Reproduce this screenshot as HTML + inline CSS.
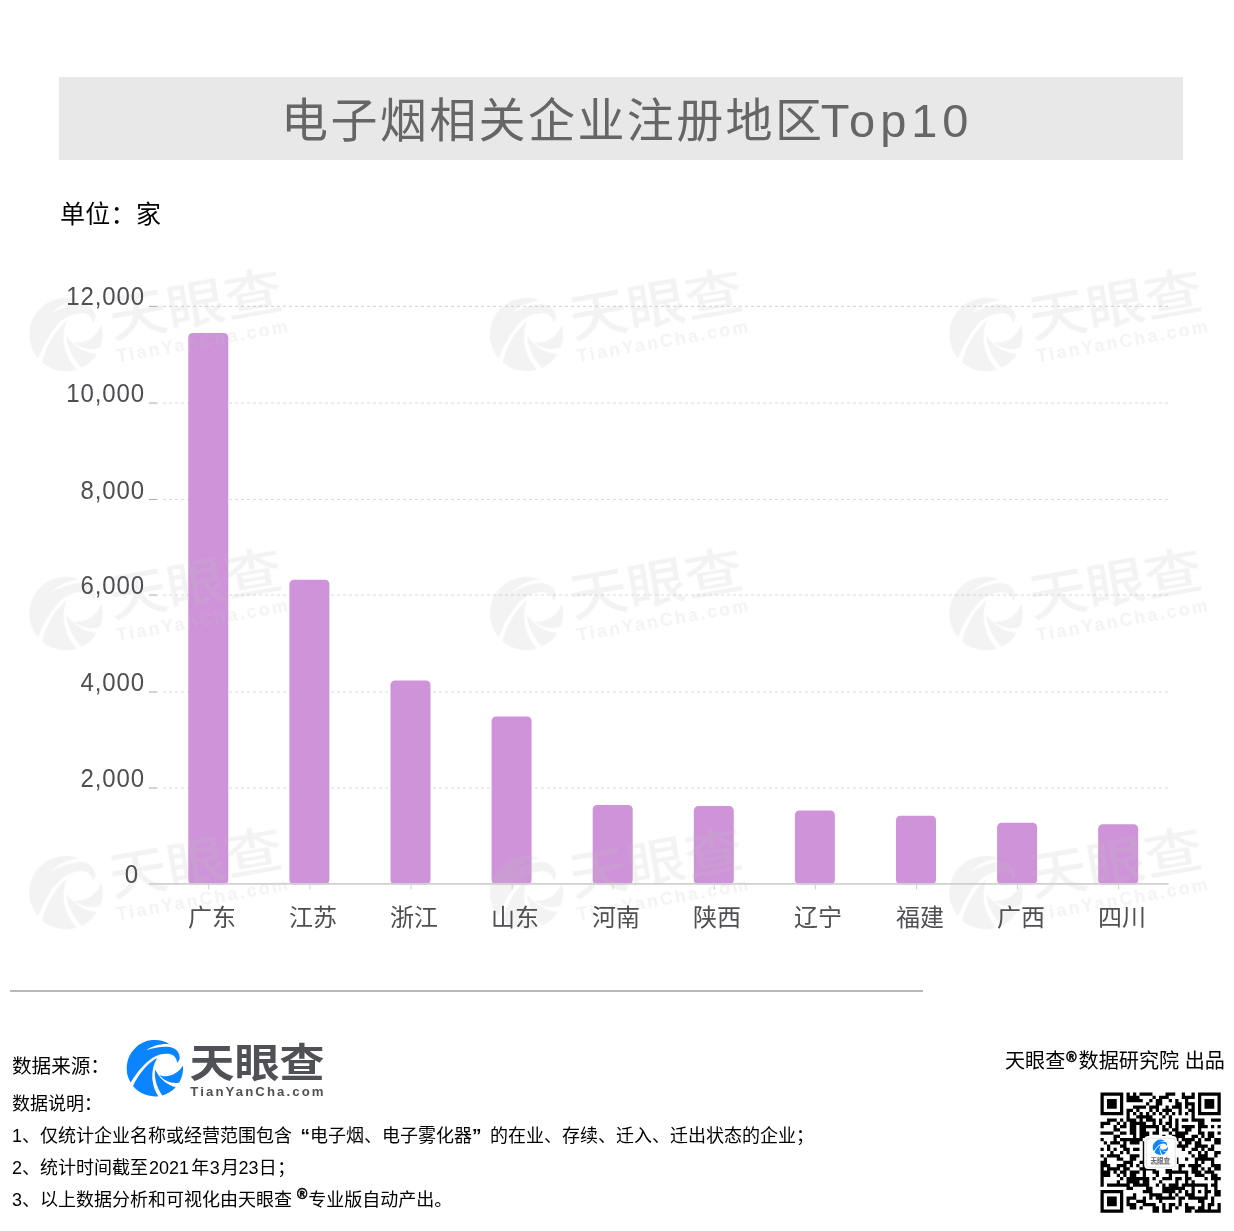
<!DOCTYPE html>
<html lang="zh-CN">
<head>
<meta charset="utf-8">
<title>电子烟相关企业注册地区Top10</title>
<style>
html,body{margin:0;padding:0;background:#fff;}
body{width:1234px;height:1231px;position:relative;overflow:hidden;font-family:"Liberation Sans","Noto Sans CJK SC",sans-serif;}
.abs{position:absolute;white-space:nowrap;will-change:transform;}
.ql,.qr{display:inline-block;width:18px;font-weight:700;font-size:19px;}.ql{text-align:right;}.qr{text-align:left;}
#titlebox{left:59px;top:77px;width:1124px;height:83px;background:#e8e8e8;}
#title{left:222px;top:2px;height:83px;line-height:83px;font-size:47px;color:#666;}
#title .c{letter-spacing:2.4px;}
#title .l{letter-spacing:4.9px;margin-left:-3.7px;}
#unit{left:60px;top:196.5px;font-size:25px;color:#000;line-height:34px;letter-spacing:0.3px;}
.yl{font-size:24px;color:#4f4f53;line-height:28px;text-align:right;width:100px;letter-spacing:0.9px;transform:scaleY(1.05);transform-origin:50% 80%;}
.xl{font-size:24px;color:#4f4f53;line-height:30px;}
#sep{left:10px;top:990px;width:913px;height:2px;background:#b8b8b8;}
.ft{font-size:18px;color:#000;line-height:24px;}
.reg{position:relative;font-size:14px;line-height:0;font-weight:700;-webkit-text-stroke:0.5px #000;}
</style>
</head>
<body>
<div class="abs" id="titlebox"><div class="abs" id="title"><span class="c">电子烟相关企业注册地区</span><span class="l">Top10</span></div></div>
<div class="abs" id="unit">单位：家</div>
<svg class="abs" style="left:0;top:0" width="1234" height="1231" viewBox="0 0 1234 1231">
<g stroke="#dadada" stroke-width="1.1" stroke-dasharray="3 3" fill="none">
<line x1="163" y1="788.00" x2="1168" y2="788.00"/>
<line x1="163" y1="692.00" x2="1168" y2="692.00"/>
<line x1="163" y1="595.05" x2="1168" y2="595.05"/>
<line x1="163" y1="499.50" x2="1168" y2="499.50"/>
<line x1="163" y1="403.05" x2="1168" y2="403.05"/>
<line x1="163" y1="306.40" x2="1168" y2="306.40"/>
</g>
<g stroke="#b2b2b2" stroke-width="1.1">
<line x1="148.9" y1="788.00" x2="157.5" y2="788.00"/>
<line x1="148.9" y1="692.00" x2="157.5" y2="692.00"/>
<line x1="148.9" y1="595.05" x2="157.5" y2="595.05"/>
<line x1="148.9" y1="499.50" x2="157.5" y2="499.50"/>
<line x1="148.9" y1="403.05" x2="157.5" y2="403.05"/>
<line x1="148.9" y1="306.40" x2="157.5" y2="306.40"/>
</g>
<g fill="#ce93d8">
<rect x="188.3" y="333.0" width="40" height="551.5" rx="4.5"/>
<rect x="289.4" y="579.7" width="40" height="304.8" rx="4.5"/>
<rect x="390.5" y="680.4" width="40" height="204.1" rx="4.5"/>
<rect x="491.6" y="716.5" width="40" height="168.0" rx="4.5"/>
<rect x="592.7" y="805.0" width="40" height="79.5" rx="4.5"/>
<rect x="693.8" y="806.1" width="40" height="78.4" rx="4.5"/>
<rect x="794.9" y="810.5" width="40" height="74.0" rx="4.5"/>
<rect x="896.0" y="815.7" width="40" height="68.8" rx="4.5"/>
<rect x="997.1" y="822.7" width="40" height="61.8" rx="4.5"/>
<rect x="1098.2" y="824.2" width="40" height="60.3" rx="4.5"/>
</g>
<g opacity="0.2">
<g transform="translate(66.0,334.5) rotate(-10) scale(1.3)"><g fill="#c4c4c4" transform="scale(0.05511) translate(-597,-588)"><path d="M155.8,847.9 A512,512 0 0 1 872.1,156.2 C760,135 560,170 440,262 C580,215 760,185 870,205 C960,225 1030,280 1045,370 C1055,420 1030,460 1000,490 C995,420 960,360 880,335 C800,315 700,330 620,365 C450,440 300,620 155.8,847.9 Z"/><path d="M199.7,910.9 C300,700 450,510 640,400 C570,520 540,650 550,780 C560,900 600,1010 659.4,1096.2 A512,512 0 0 1 199.7,910.9 Z"/><path d="M600,610 C580,760 630,940 732.1,1081.9 A512,512 0 0 0 978.1,929.9 C850,905 700,810 600,610 Z"/><path d="M680,710 C800,770 1000,720 1106.8,540.7 A512,512 0 0 1 1039.5,845.5 C920,880 760,820 680,710 Z"/></g><text x="34.6" y="8.6" font-family='"Liberation Sans","Noto Sans CJK SC",sans-serif' font-weight="500" font-size="39.5" fill="#c4c4c4" textLength="135" lengthAdjust="spacingAndGlyphs">天眼查</text><text x="35.4" y="28.3" font-family='"Liberation Sans",sans-serif' font-weight="700" font-size="13.6" fill="#c4c4c4" textLength="133.3" lengthAdjust="spacing">TianYanCha.com</text></g>
<g transform="translate(526.5,334.5) rotate(-10) scale(1.3)"><g fill="#c4c4c4" transform="scale(0.05511) translate(-597,-588)"><path d="M155.8,847.9 A512,512 0 0 1 872.1,156.2 C760,135 560,170 440,262 C580,215 760,185 870,205 C960,225 1030,280 1045,370 C1055,420 1030,460 1000,490 C995,420 960,360 880,335 C800,315 700,330 620,365 C450,440 300,620 155.8,847.9 Z"/><path d="M199.7,910.9 C300,700 450,510 640,400 C570,520 540,650 550,780 C560,900 600,1010 659.4,1096.2 A512,512 0 0 1 199.7,910.9 Z"/><path d="M600,610 C580,760 630,940 732.1,1081.9 A512,512 0 0 0 978.1,929.9 C850,905 700,810 600,610 Z"/><path d="M680,710 C800,770 1000,720 1106.8,540.7 A512,512 0 0 1 1039.5,845.5 C920,880 760,820 680,710 Z"/></g><text x="34.6" y="8.6" font-family='"Liberation Sans","Noto Sans CJK SC",sans-serif' font-weight="500" font-size="39.5" fill="#c4c4c4" textLength="135" lengthAdjust="spacingAndGlyphs">天眼查</text><text x="35.4" y="28.3" font-family='"Liberation Sans",sans-serif' font-weight="700" font-size="13.6" fill="#c4c4c4" textLength="133.3" lengthAdjust="spacing">TianYanCha.com</text></g>
<g transform="translate(986.0,334.5) rotate(-10) scale(1.3)"><g fill="#c4c4c4" transform="scale(0.05511) translate(-597,-588)"><path d="M155.8,847.9 A512,512 0 0 1 872.1,156.2 C760,135 560,170 440,262 C580,215 760,185 870,205 C960,225 1030,280 1045,370 C1055,420 1030,460 1000,490 C995,420 960,360 880,335 C800,315 700,330 620,365 C450,440 300,620 155.8,847.9 Z"/><path d="M199.7,910.9 C300,700 450,510 640,400 C570,520 540,650 550,780 C560,900 600,1010 659.4,1096.2 A512,512 0 0 1 199.7,910.9 Z"/><path d="M600,610 C580,760 630,940 732.1,1081.9 A512,512 0 0 0 978.1,929.9 C850,905 700,810 600,610 Z"/><path d="M680,710 C800,770 1000,720 1106.8,540.7 A512,512 0 0 1 1039.5,845.5 C920,880 760,820 680,710 Z"/></g><text x="34.6" y="8.6" font-family='"Liberation Sans","Noto Sans CJK SC",sans-serif' font-weight="500" font-size="39.5" fill="#c4c4c4" textLength="135" lengthAdjust="spacingAndGlyphs">天眼查</text><text x="35.4" y="28.3" font-family='"Liberation Sans",sans-serif' font-weight="700" font-size="13.6" fill="#c4c4c4" textLength="133.3" lengthAdjust="spacing">TianYanCha.com</text></g>
<g transform="translate(66.0,613.5) rotate(-10) scale(1.3)"><g fill="#c4c4c4" transform="scale(0.05511) translate(-597,-588)"><path d="M155.8,847.9 A512,512 0 0 1 872.1,156.2 C760,135 560,170 440,262 C580,215 760,185 870,205 C960,225 1030,280 1045,370 C1055,420 1030,460 1000,490 C995,420 960,360 880,335 C800,315 700,330 620,365 C450,440 300,620 155.8,847.9 Z"/><path d="M199.7,910.9 C300,700 450,510 640,400 C570,520 540,650 550,780 C560,900 600,1010 659.4,1096.2 A512,512 0 0 1 199.7,910.9 Z"/><path d="M600,610 C580,760 630,940 732.1,1081.9 A512,512 0 0 0 978.1,929.9 C850,905 700,810 600,610 Z"/><path d="M680,710 C800,770 1000,720 1106.8,540.7 A512,512 0 0 1 1039.5,845.5 C920,880 760,820 680,710 Z"/></g><text x="34.6" y="8.6" font-family='"Liberation Sans","Noto Sans CJK SC",sans-serif' font-weight="500" font-size="39.5" fill="#c4c4c4" textLength="135" lengthAdjust="spacingAndGlyphs">天眼查</text><text x="35.4" y="28.3" font-family='"Liberation Sans",sans-serif' font-weight="700" font-size="13.6" fill="#c4c4c4" textLength="133.3" lengthAdjust="spacing">TianYanCha.com</text></g>
<g transform="translate(526.5,613.5) rotate(-10) scale(1.3)"><g fill="#c4c4c4" transform="scale(0.05511) translate(-597,-588)"><path d="M155.8,847.9 A512,512 0 0 1 872.1,156.2 C760,135 560,170 440,262 C580,215 760,185 870,205 C960,225 1030,280 1045,370 C1055,420 1030,460 1000,490 C995,420 960,360 880,335 C800,315 700,330 620,365 C450,440 300,620 155.8,847.9 Z"/><path d="M199.7,910.9 C300,700 450,510 640,400 C570,520 540,650 550,780 C560,900 600,1010 659.4,1096.2 A512,512 0 0 1 199.7,910.9 Z"/><path d="M600,610 C580,760 630,940 732.1,1081.9 A512,512 0 0 0 978.1,929.9 C850,905 700,810 600,610 Z"/><path d="M680,710 C800,770 1000,720 1106.8,540.7 A512,512 0 0 1 1039.5,845.5 C920,880 760,820 680,710 Z"/></g><text x="34.6" y="8.6" font-family='"Liberation Sans","Noto Sans CJK SC",sans-serif' font-weight="500" font-size="39.5" fill="#c4c4c4" textLength="135" lengthAdjust="spacingAndGlyphs">天眼查</text><text x="35.4" y="28.3" font-family='"Liberation Sans",sans-serif' font-weight="700" font-size="13.6" fill="#c4c4c4" textLength="133.3" lengthAdjust="spacing">TianYanCha.com</text></g>
<g transform="translate(986.0,613.5) rotate(-10) scale(1.3)"><g fill="#c4c4c4" transform="scale(0.05511) translate(-597,-588)"><path d="M155.8,847.9 A512,512 0 0 1 872.1,156.2 C760,135 560,170 440,262 C580,215 760,185 870,205 C960,225 1030,280 1045,370 C1055,420 1030,460 1000,490 C995,420 960,360 880,335 C800,315 700,330 620,365 C450,440 300,620 155.8,847.9 Z"/><path d="M199.7,910.9 C300,700 450,510 640,400 C570,520 540,650 550,780 C560,900 600,1010 659.4,1096.2 A512,512 0 0 1 199.7,910.9 Z"/><path d="M600,610 C580,760 630,940 732.1,1081.9 A512,512 0 0 0 978.1,929.9 C850,905 700,810 600,610 Z"/><path d="M680,710 C800,770 1000,720 1106.8,540.7 A512,512 0 0 1 1039.5,845.5 C920,880 760,820 680,710 Z"/></g><text x="34.6" y="8.6" font-family='"Liberation Sans","Noto Sans CJK SC",sans-serif' font-weight="500" font-size="39.5" fill="#c4c4c4" textLength="135" lengthAdjust="spacingAndGlyphs">天眼查</text><text x="35.4" y="28.3" font-family='"Liberation Sans",sans-serif' font-weight="700" font-size="13.6" fill="#c4c4c4" textLength="133.3" lengthAdjust="spacing">TianYanCha.com</text></g>
<g transform="translate(66.0,892.5) rotate(-10) scale(1.3)"><g fill="#c4c4c4" transform="scale(0.05511) translate(-597,-588)"><path d="M155.8,847.9 A512,512 0 0 1 872.1,156.2 C760,135 560,170 440,262 C580,215 760,185 870,205 C960,225 1030,280 1045,370 C1055,420 1030,460 1000,490 C995,420 960,360 880,335 C800,315 700,330 620,365 C450,440 300,620 155.8,847.9 Z"/><path d="M199.7,910.9 C300,700 450,510 640,400 C570,520 540,650 550,780 C560,900 600,1010 659.4,1096.2 A512,512 0 0 1 199.7,910.9 Z"/><path d="M600,610 C580,760 630,940 732.1,1081.9 A512,512 0 0 0 978.1,929.9 C850,905 700,810 600,610 Z"/><path d="M680,710 C800,770 1000,720 1106.8,540.7 A512,512 0 0 1 1039.5,845.5 C920,880 760,820 680,710 Z"/></g><text x="34.6" y="8.6" font-family='"Liberation Sans","Noto Sans CJK SC",sans-serif' font-weight="500" font-size="39.5" fill="#c4c4c4" textLength="135" lengthAdjust="spacingAndGlyphs">天眼查</text><text x="35.4" y="28.3" font-family='"Liberation Sans",sans-serif' font-weight="700" font-size="13.6" fill="#c4c4c4" textLength="133.3" lengthAdjust="spacing">TianYanCha.com</text></g>
<g transform="translate(526.5,892.5) rotate(-10) scale(1.3)"><g fill="#c4c4c4" transform="scale(0.05511) translate(-597,-588)"><path d="M155.8,847.9 A512,512 0 0 1 872.1,156.2 C760,135 560,170 440,262 C580,215 760,185 870,205 C960,225 1030,280 1045,370 C1055,420 1030,460 1000,490 C995,420 960,360 880,335 C800,315 700,330 620,365 C450,440 300,620 155.8,847.9 Z"/><path d="M199.7,910.9 C300,700 450,510 640,400 C570,520 540,650 550,780 C560,900 600,1010 659.4,1096.2 A512,512 0 0 1 199.7,910.9 Z"/><path d="M600,610 C580,760 630,940 732.1,1081.9 A512,512 0 0 0 978.1,929.9 C850,905 700,810 600,610 Z"/><path d="M680,710 C800,770 1000,720 1106.8,540.7 A512,512 0 0 1 1039.5,845.5 C920,880 760,820 680,710 Z"/></g><text x="34.6" y="8.6" font-family='"Liberation Sans","Noto Sans CJK SC",sans-serif' font-weight="500" font-size="39.5" fill="#c4c4c4" textLength="135" lengthAdjust="spacingAndGlyphs">天眼查</text><text x="35.4" y="28.3" font-family='"Liberation Sans",sans-serif' font-weight="700" font-size="13.6" fill="#c4c4c4" textLength="133.3" lengthAdjust="spacing">TianYanCha.com</text></g>
<g transform="translate(986.0,892.5) rotate(-10) scale(1.3)"><g fill="#c4c4c4" transform="scale(0.05511) translate(-597,-588)"><path d="M155.8,847.9 A512,512 0 0 1 872.1,156.2 C760,135 560,170 440,262 C580,215 760,185 870,205 C960,225 1030,280 1045,370 C1055,420 1030,460 1000,490 C995,420 960,360 880,335 C800,315 700,330 620,365 C450,440 300,620 155.8,847.9 Z"/><path d="M199.7,910.9 C300,700 450,510 640,400 C570,520 540,650 550,780 C560,900 600,1010 659.4,1096.2 A512,512 0 0 1 199.7,910.9 Z"/><path d="M600,610 C580,760 630,940 732.1,1081.9 A512,512 0 0 0 978.1,929.9 C850,905 700,810 600,610 Z"/><path d="M680,710 C800,770 1000,720 1106.8,540.7 A512,512 0 0 1 1039.5,845.5 C920,880 760,820 680,710 Z"/></g><text x="34.6" y="8.6" font-family='"Liberation Sans","Noto Sans CJK SC",sans-serif' font-weight="500" font-size="39.5" fill="#c4c4c4" textLength="135" lengthAdjust="spacingAndGlyphs">天眼查</text><text x="35.4" y="28.3" font-family='"Liberation Sans",sans-serif' font-weight="700" font-size="13.6" fill="#c4c4c4" textLength="133.3" lengthAdjust="spacing">TianYanCha.com</text></g>
</g>
<line x1="149" y1="883.9" x2="1168.6" y2="883.9" stroke="#d0d0d0" stroke-width="1.6"/>
<g stroke="#cfcfcf" stroke-width="1">
<line x1="208.8" y1="884" x2="208.8" y2="889.5"/>
<line x1="309.9" y1="884" x2="309.9" y2="889.5"/>
<line x1="411.0" y1="884" x2="411.0" y2="889.5"/>
<line x1="512.1" y1="884" x2="512.1" y2="889.5"/>
<line x1="613.2" y1="884" x2="613.2" y2="889.5"/>
<line x1="714.3" y1="884" x2="714.3" y2="889.5"/>
<line x1="815.4" y1="884" x2="815.4" y2="889.5"/>
<line x1="916.5" y1="884" x2="916.5" y2="889.5"/>
<line x1="1017.6" y1="884" x2="1017.6" y2="889.5"/>
<line x1="1118.7" y1="884" x2="1118.7" y2="889.5"/>
</g>
<g transform="translate(154.9,1068.2)"><g fill="#0a84ff" transform="scale(0.05511) translate(-597,-588)"><path d="M155.8,847.9 A512,512 0 0 1 872.1,156.2 C760,135 560,170 440,262 C580,215 760,185 870,205 C960,225 1030,280 1045,370 C1055,420 1030,460 1000,490 C995,420 960,360 880,335 C800,315 700,330 620,365 C450,440 300,620 155.8,847.9 Z"/><path d="M199.7,910.9 C300,700 450,510 640,400 C570,520 540,650 550,780 C560,900 600,1010 659.4,1096.2 A512,512 0 0 1 199.7,910.9 Z"/><path d="M600,610 C580,760 630,940 732.1,1081.9 A512,512 0 0 0 978.1,929.9 C850,905 700,810 600,610 Z"/><path d="M680,710 C800,770 1000,720 1106.8,540.7 A512,512 0 0 1 1039.5,845.5 C920,880 760,820 680,710 Z"/></g><text x="34.6" y="8.6" font-family='"Liberation Sans","Noto Sans CJK SC",sans-serif' font-weight="700" font-size="39.5" fill="#505157" textLength="135" lengthAdjust="spacingAndGlyphs">天眼查</text><text x="35.4" y="28.2" font-family='"Liberation Sans",sans-serif' font-weight="700" font-size="13.2" fill="#505157" textLength="133.3" lengthAdjust="spacing">TianYanCha.com</text></g>
<path transform="translate(1100.5,1092.5) scale(3.25)" d="M0 0h7v1h-7zM8 0h1v1h-1zM10 0h1v1h-1zM12 0h4v1h-4zM20 0h3v1h-3zM25 0h1v1h-1zM28 0h1v1h-1zM30 0h7v1h-7zM0 1h1v1h-1zM6 1h1v1h-1zM8 1h4v1h-4zM16 1h1v1h-1zM18 1h3v1h-3zM25 1h4v1h-4zM30 1h1v1h-1zM36 1h1v1h-1zM0 2h1v1h-1zM2 2h3v1h-3zM6 2h1v1h-1zM8 2h5v1h-5zM15 2h1v1h-1zM17 2h2v1h-2zM21 2h1v1h-1zM23 2h1v1h-1zM26 2h1v1h-1zM30 2h1v1h-1zM32 2h3v1h-3zM36 2h1v1h-1zM0 3h1v1h-1zM2 3h3v1h-3zM6 3h1v1h-1zM14 3h1v1h-1zM17 3h2v1h-2zM23 3h2v1h-2zM26 3h3v1h-3zM30 3h1v1h-1zM32 3h3v1h-3zM36 3h1v1h-1zM0 4h1v1h-1zM2 4h3v1h-3zM6 4h1v1h-1zM10 4h4v1h-4zM15 4h3v1h-3zM20 4h1v1h-1zM22 4h3v1h-3zM26 4h1v1h-1zM28 4h1v1h-1zM30 4h1v1h-1zM32 4h3v1h-3zM36 4h1v1h-1zM0 5h1v1h-1zM6 5h1v1h-1zM8 5h2v1h-2zM11 5h1v1h-1zM15 5h1v1h-1zM17 5h1v1h-1zM19 5h3v1h-3zM24 5h1v1h-1zM27 5h2v1h-2zM30 5h1v1h-1zM36 5h1v1h-1zM0 6h7v1h-7zM8 6h1v1h-1zM10 6h1v1h-1zM12 6h1v1h-1zM14 6h1v1h-1zM16 6h1v1h-1zM18 6h1v1h-1zM20 6h1v1h-1zM22 6h1v1h-1zM24 6h1v1h-1zM26 6h1v1h-1zM28 6h1v1h-1zM30 6h7v1h-7zM8 7h1v1h-1zM11 7h5v1h-5zM19 7h1v1h-1zM21 7h1v1h-1zM28 7h1v1h-1zM2 8h3v1h-3zM6 8h1v1h-1zM8 8h3v1h-3zM12 8h1v1h-1zM14 8h3v1h-3zM18 8h1v1h-1zM21 8h1v1h-1zM23 8h1v1h-1zM25 8h2v1h-2zM28 8h4v1h-4zM34 8h3v1h-3zM0 9h3v1h-3zM5 9h1v1h-1zM7 9h1v1h-1zM9 9h5v1h-5zM16 9h1v1h-1zM18 9h1v1h-1zM20 9h2v1h-2zM23 9h1v1h-1zM30 9h2v1h-2zM0 10h1v1h-1zM4 10h1v1h-1zM6 10h2v1h-2zM9 10h2v1h-2zM12 10h6v1h-6zM19 10h1v1h-1zM21 10h1v1h-1zM23 10h1v1h-1zM25 10h4v1h-4zM30 10h3v1h-3zM34 10h1v1h-1zM36 10h1v1h-1zM4 11h2v1h-2zM9 11h2v1h-2zM12 11h2v1h-2zM17 11h1v1h-1zM19 11h2v1h-2zM22 11h2v1h-2zM26 11h2v1h-2zM30 11h1v1h-1zM0 12h4v1h-4zM6 12h2v1h-2zM9 12h2v1h-2zM12 12h3v1h-3zM16 12h2v1h-2zM21 12h1v1h-1zM23 12h4v1h-4zM30 12h2v1h-2zM33 12h2v1h-2zM36 12h1v1h-1zM4 13h2v1h-2zM10 13h1v1h-1zM12 13h3v1h-3zM19 13h1v1h-1zM22 13h4v1h-4zM28 13h2v1h-2zM31 13h1v1h-1zM33 13h2v1h-2zM0 14h1v1h-1zM4 14h1v1h-1zM6 14h7v1h-7zM23 14h1v1h-1zM25 14h4v1h-4zM30 14h1v1h-1zM32 14h2v1h-2zM35 14h2v1h-2zM1 15h1v1h-1zM3 15h3v1h-3zM7 15h1v1h-1zM9 15h3v1h-3zM13 15h1v1h-1zM24 15h1v1h-1zM26 15h2v1h-2zM29 15h2v1h-2zM35 15h2v1h-2zM2 16h1v1h-1zM6 16h2v1h-2zM13 16h1v1h-1zM23 16h4v1h-4zM29 16h4v1h-4zM34 16h1v1h-1zM0 17h1v1h-1zM2 17h1v1h-1zM4 17h1v1h-1zM7 17h2v1h-2zM10 17h2v1h-2zM13 17h1v1h-1zM25 17h1v1h-1zM28 17h2v1h-2zM31 17h1v1h-1zM33 17h2v1h-2zM3 18h1v1h-1zM6 18h1v1h-1zM8 18h1v1h-1zM13 18h1v1h-1zM27 18h1v1h-1zM30 18h1v1h-1zM32 18h1v1h-1zM35 18h2v1h-2zM0 19h1v1h-1zM2 19h4v1h-4zM9 19h3v1h-3zM13 19h1v1h-1zM28 19h1v1h-1zM30 19h3v1h-3zM35 19h1v1h-1zM1 20h1v1h-1zM5 20h2v1h-2zM9 20h2v1h-2zM13 20h1v1h-1zM23 20h1v1h-1zM26 20h1v1h-1zM29 20h6v1h-6zM0 21h2v1h-2zM7 21h3v1h-3zM12 21h2v1h-2zM23 21h1v1h-1zM29 21h1v1h-1zM31 21h1v1h-1zM34 21h1v1h-1zM0 22h3v1h-3zM5 22h3v1h-3zM9 22h1v1h-1zM11 22h1v1h-1zM13 22h1v1h-1zM24 22h2v1h-2zM27 22h4v1h-4zM34 22h3v1h-3zM0 23h1v1h-1zM2 23h4v1h-4zM7 23h2v1h-2zM12 23h5v1h-5zM20 23h2v1h-2zM24 23h1v1h-1zM28 23h2v1h-2zM31 23h1v1h-1zM33 23h1v1h-1zM35 23h2v1h-2zM0 24h3v1h-3zM4 24h1v1h-1zM6 24h2v1h-2zM9 24h3v1h-3zM13 24h1v1h-1zM16 24h2v1h-2zM20 24h7v1h-7zM28 24h3v1h-3zM32 24h3v1h-3zM0 25h3v1h-3zM5 25h1v1h-1zM7 25h1v1h-1zM9 25h2v1h-2zM13 25h1v1h-1zM17 25h1v1h-1zM21 25h1v1h-1zM26 25h1v1h-1zM29 25h3v1h-3zM34 25h2v1h-2zM0 26h1v1h-1zM6 26h1v1h-1zM8 26h7v1h-7zM16 26h1v1h-1zM19 26h3v1h-3zM23 26h2v1h-2zM26 26h2v1h-2zM32 26h1v1h-1zM34 26h3v1h-3zM0 27h1v1h-1zM5 27h1v1h-1zM8 27h4v1h-4zM13 27h2v1h-2zM18 27h1v1h-1zM23 27h1v1h-1zM26 27h1v1h-1zM28 27h1v1h-1zM35 27h1v1h-1zM0 28h1v1h-1zM2 28h7v1h-7zM10 28h5v1h-5zM17 28h1v1h-1zM19 28h1v1h-1zM21 28h3v1h-3zM25 28h8v1h-8zM34 28h2v1h-2zM8 29h2v1h-2zM14 29h2v1h-2zM19 29h7v1h-7zM28 29h1v1h-1zM32 29h1v1h-1zM35 29h1v1h-1zM0 30h7v1h-7zM13 30h3v1h-3zM19 30h4v1h-4zM24 30h1v1h-1zM26 30h1v1h-1zM28 30h1v1h-1zM30 30h1v1h-1zM32 30h2v1h-2zM35 30h2v1h-2zM0 31h1v1h-1zM6 31h1v1h-1zM10 31h1v1h-1zM15 31h4v1h-4zM21 31h1v1h-1zM23 31h1v1h-1zM26 31h3v1h-3zM32 31h1v1h-1zM35 31h2v1h-2zM0 32h1v1h-1zM2 32h3v1h-3zM6 32h1v1h-1zM8 32h3v1h-3zM13 32h1v1h-1zM15 32h1v1h-1zM17 32h6v1h-6zM24 32h2v1h-2zM27 32h6v1h-6zM34 32h1v1h-1zM0 33h1v1h-1zM2 33h3v1h-3zM6 33h1v1h-1zM8 33h1v1h-1zM11 33h3v1h-3zM18 33h1v1h-1zM24 33h1v1h-1zM30 33h2v1h-2zM34 33h1v1h-1zM0 34h1v1h-1zM2 34h3v1h-3zM6 34h1v1h-1zM8 34h3v1h-3zM13 34h4v1h-4zM19 34h1v1h-1zM21 34h2v1h-2zM24 34h1v1h-1zM26 34h1v1h-1zM31 34h1v1h-1zM33 34h2v1h-2zM36 34h1v1h-1zM0 35h1v1h-1zM6 35h1v1h-1zM9 35h2v1h-2zM12 35h1v1h-1zM16 35h2v1h-2zM19 35h1v1h-1zM21 35h1v1h-1zM23 35h1v1h-1zM26 35h3v1h-3zM30 35h2v1h-2zM33 35h1v1h-1zM36 35h1v1h-1zM0 36h7v1h-7zM16 36h2v1h-2zM19 36h3v1h-3zM26 36h2v1h-2zM29 36h8v1h-8z" fill="#000"/>
<rect x="1144.2" y="1136" width="32.7" height="33" rx="4" fill="#fff"/>
<rect x="1146.3" y="1138.3" width="29" height="29" rx="3" fill="#fff" stroke="#dcdcdc" stroke-width="0.8"/>
<g transform="translate(1160.4,1147.4) scale(0.27)"><g fill="#0a84ff" transform="scale(0.05511) translate(-597,-588)"><path d="M155.8,847.9 A512,512 0 0 1 872.1,156.2 C760,135 560,170 440,262 C580,215 760,185 870,205 C960,225 1030,280 1045,370 C1055,420 1030,460 1000,490 C995,420 960,360 880,335 C800,315 700,330 620,365 C450,440 300,620 155.8,847.9 Z"/><path d="M199.7,910.9 C300,700 450,510 640,400 C570,520 540,650 550,780 C560,900 600,1010 659.4,1096.2 A512,512 0 0 1 199.7,910.9 Z"/><path d="M600,610 C580,760 630,940 732.1,1081.9 A512,512 0 0 0 978.1,929.9 C850,905 700,810 600,610 Z"/><path d="M680,710 C800,770 1000,720 1106.8,540.7 A512,512 0 0 1 1039.5,845.5 C920,880 760,820 680,710 Z"/></g></g>
<text x="1150.4" y="1162.8" font-family='"Liberation Sans","Noto Sans CJK SC",sans-serif' font-weight="700" font-size="7" fill="#6a6a70" textLength="19.6" lengthAdjust="spacingAndGlyphs">天眼查</text>
<text x="1150.5" y="1165.3" font-family='"Liberation Sans",sans-serif' font-weight="700" font-size="2.6" fill="#8a8a90" textLength="19.5" lengthAdjust="spacingAndGlyphs">TianYanCha.com</text>
</svg>
<div class="abs yl" style="left:45.0px;top:283.4px">12,000</div>
<div class="abs yl" style="left:45.0px;top:380.1px">10,000</div>
<div class="abs yl" style="left:45.0px;top:476.5px">8,000</div>
<div class="abs yl" style="left:45.0px;top:572.0px">6,000</div>
<div class="abs yl" style="left:45.0px;top:669.0px">4,000</div>
<div class="abs yl" style="left:45.0px;top:765.0px">2,000</div>
<div class="abs yl" style="left:39.0px;top:860.9px">0</div>
<div class="abs xl" style="left:187.8px;top:903px">广东</div>
<div class="abs xl" style="left:288.9px;top:903px">江苏</div>
<div class="abs xl" style="left:390.0px;top:903px">浙江</div>
<div class="abs xl" style="left:491.1px;top:903px">山东</div>
<div class="abs xl" style="left:592.2px;top:903px">河南</div>
<div class="abs xl" style="left:693.3px;top:903px">陕西</div>
<div class="abs xl" style="left:794.4px;top:903px">辽宁</div>
<div class="abs xl" style="left:895.5px;top:903px">福建</div>
<div class="abs xl" style="left:996.6px;top:903px">广西</div>
<div class="abs xl" style="left:1097.7px;top:903px">四川</div>
<div class="abs" id="sep"></div>
<div class="abs ft" style="left:12px;top:1053.5px;font-size:19.6px">数据来源：</div>
<div class="abs ft" style="left:12px;top:1092px">数据说明：</div>
<div class="abs ft" style="left:12px;top:1124.1px">1、仅统计企业名称或经营范围包含<span class="ql">“</span>电子烟、电子雾化器<span class="qr">”</span>的在业、存续、迁入、迁出状态的企业；</div>
<div class="abs ft" style="left:12px;top:1156px">2、统计时间截至<span style="margin:0 2.2px 0 0.9px">2021</span>年<span style="margin:0 1.1px 0 0.7px">3</span>月<span style="margin:0 0.2px 0 -0.4px">23</span>日<span style="margin-left:0.6px">；</span></div>
<div class="abs ft" style="left:12px;top:1188px">3、以上数据分析和可视化由天眼查<span class="reg" style="margin:0 1px 0 5px;top:-7px">®</span>专业版自动产出。</div>
<div class="abs ft" style="left:1005px;top:1048.5px;font-size:20.1px">天眼查<span class="reg" style="margin:0 2px 0 1px;top:-6px">®</span>数据研究院 出品</div>
</body>
</html>
